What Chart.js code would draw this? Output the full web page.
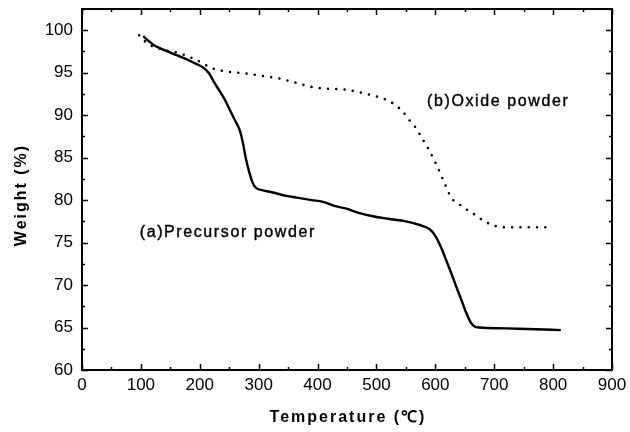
<!DOCTYPE html>
<html>
<head>
<meta charset="utf-8">
<script src="https://cdn.jsdelivr.net/npm/chart.js@4/dist/chart.umd.min.js"></script>
<style>
html,body{margin:0;padding:0;background:#fff;}
canvas{display:block;}
</style>
</head>
<body>
<canvas id="c" width="630" height="432"></canvas>
<script>
// Series (a) Precursor powder: temperature (°C), weight (%)
const precursorT = [104,112,121,135,149,163,177,192,206,216,225,235,245,254,262,268,273,278,284,290,296,304,324,347,364,390,409,430,449,470,494,520,550,572,590,600,610,618,627,635,644,652,660,667,675,720,770,813];
const precursorW = [99.3,98.8,98.3,97.8,97.4,97.0,96.6,96.1,95.6,94.9,93.8,92.7,91.5,90.2,89.1,88.2,86.8,85.0,83.3,82.0,81.4,81.2,80.9,80.5,80.3,80.0,79.8,79.3,79.0,78.5,78.1,77.8,77.5,77.1,76.6,75.8,74.4,73.0,71.4,69.9,68.3,66.8,65.6,65.1,65.0,64.9,64.8,64.7];
// Series (b) Oxide powder
const oxideT = [97,110,124,145,165,194,222,250,279,308,336,364,392,420,449,477,505,520,530,545,556,567,578,590,603,615,627,641,655,669,683,697,711,750,796];
const oxideW = [99.4,98.5,98.0,97.6,97.3,96.5,95.5,95.1,94.9,94.6,94.3,93.8,93.3,93.1,93.0,92.6,92.1,91.7,91.3,90.4,89.4,88.5,87.2,85.8,84.0,82.1,80.3,79.5,78.8,78.2,77.5,77.1,76.8,76.8,76.8];
// Axis ticks
const xTicks = [0,100,200,300,400,500,600,700,800,900];
const yTicks = [60,65,70,75,80,85,90,95,100];
const xTitle = 'Temperature (\u2103)';
const yTitle = 'Weight (%)';
const labelA = {text:'(a)Precursor powder', x:98, y:76.2};
const labelB = {text:'(b)Oxide powder', x:586, y:91.6};

const FONT = '"Liberation Sans", Arial, sans-serif';

const toXY = (xs, ys) => xs.map((x,i)=>({x:x, y:ys[i]}));

const decor = {
  id:'decor',
  afterDraw(chart){
    const ctx = chart.ctx;
    const a = chart.chartArea;
    const xs = chart.scales.x, ys = chart.scales.y;
    ctx.save();
    ctx.strokeStyle = '#000';
    ctx.lineWidth = 2;
    ctx.strokeRect(a.left, a.top, a.right-a.left, a.bottom-a.top);
    ctx.lineWidth = 1.5;
    ctx.beginPath();
    for (let v=0; v<=900; v+=50){
      const px = Math.round(xs.getPixelForValue(v))+0.5;
      const len = (v%100===0)?6:3;
      ctx.moveTo(px, a.bottom); ctx.lineTo(px, a.bottom-len);
      ctx.moveTo(px, a.top); ctx.lineTo(px, a.top+len);
    }
    for (let v=60; v<=102.5; v+=2.5){
      const py = Math.round(ys.getPixelForValue(v))+0.5;
      const len = (v%5===0)?6:3;
      ctx.moveTo(a.left, py); ctx.lineTo(a.left+len, py);
      ctx.moveTo(a.right, py); ctx.lineTo(a.right-len, py);
    }
    ctx.stroke();

    ctx.fillStyle = '#000';
    ctx.strokeStyle = '#000';
    ctx.lineWidth = 0.4;
    ctx.textBaseline = 'middle';
    ctx.textAlign = 'left';
    ctx.font = '16px ' + FONT;
    ctx.letterSpacing = '1.6px';
    const ax = xs.getPixelForValue(labelA.x), ay = ys.getPixelForValue(labelA.y);
    const bx = xs.getPixelForValue(labelB.x), by = ys.getPixelForValue(labelB.y);
    ctx.fillText(labelA.text, ax, ay); ctx.strokeText(labelA.text, ax, ay);
    ctx.fillText(labelB.text, bx, by); ctx.strokeText(labelB.text, bx, by);

    ctx.font = 'bold 16px ' + FONT;
    ctx.letterSpacing = '2px';
    ctx.textAlign = 'center';
    ctx.fillText(xTitle, (a.left+a.right)/2 + 1, 418);
    ctx.save();
    ctx.translate(22, 195);
    ctx.rotate(-Math.PI/2);
    ctx.fillText(yTitle, 0, 0);
    ctx.restore();
    ctx.restore();
  }
};

new Chart(document.getElementById('c'), {
  type:'line',
  data:{
    datasets:[
      {
        label:'(a)Precursor powder',
        data: toXY(precursorT, precursorW),
        borderColor:'#000',
        borderWidth:2.4,
        pointRadius:0,
        cubicInterpolationMode:'monotone',
        fill:false
      },
      {
        label:'(b)Oxide powder',
        data: toXY(oxideT, oxideW),
        borderColor:'#000',
        borderWidth:2.6,
        borderDash:[0,8.3],
        borderCapStyle:'round',
        pointRadius:0,
        cubicInterpolationMode:'monotone',
        fill:false
      }
    ]
  },
  options:{
    responsive:false,
    animation:false,
    devicePixelRatio:1,
    layout:{padding:{top:9,right:18,left:0,bottom:0}},
    plugins:{legend:{display:false}, tooltip:{enabled:false}},
    scales:{
      x:{
        type:'linear', min:0, max:900,
        afterFit(s){ s.height = 62; s.paddingLeft = 0; s.paddingRight = 0; },
        afterBuildTicks(s){ s.ticks = xTicks.map(v=>({value:v})); },
        grid:{display:false, drawTicks:false},
        border:{display:false},
        ticks:{color:'#000', font:{family:FONT, size:17}, padding:5, maxRotation:0, includeBounds:false}
      },
      y:{
        type:'linear', min:60, max:102.5,
        afterFit(s){ s.width = 82; s.paddingTop = 0; s.paddingBottom = 0; },
        afterBuildTicks(s){ s.ticks = yTicks.map(v=>({value:v})); },
        grid:{display:false, drawTicks:false},
        border:{display:false},
        ticks:{color:'#000', font:{family:FONT, size:17}, padding:9, includeBounds:false}
      }
    }
  },
  plugins:[decor]
});
</script>
</body>
</html>
